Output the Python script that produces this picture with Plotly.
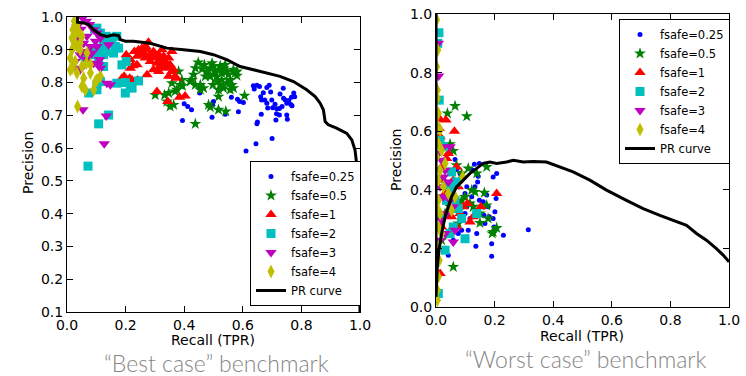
import plotly.graph_objects as go

# ---------------- Best case (left) ----------------
best_f025_x = [0.394,0.40,0.412,0.425,0.453,0.5,0.497,0.495,0.54,0.561,0.582,0.585,0.589,0.602,0.611,0.645,0.648,0.65,0.663,0.7,
               0.636,0.639,0.657,0.661,0.670,0.682,0.690,0.695,0.664,0.682,0.699,0.685,0.702,0.710,0.716,0.725,0.734,0.739,0.727,0.738,
               0.745,0.75,0.757,0.75,0.752,0.715,0.725,0.713,0.766,0.774,0.777,0.764,0.768,0.648,0.675]
best_f025_y = [0.684,0.735,0.727,0.717,0.768,0.742,0.731,0.694,0.703,0.755,0.749,0.711,0.742,0.739,0.591,0.613,0.674,0.68,0.703,0.629,
               0.790,0.780,0.788,0.757,0.769,0.785,0.792,0.771,0.747,0.737,0.747,0.722,0.723,0.734,0.720,0.721,0.727,0.752,0.765,0.783,
               0.747,0.737,0.745,0.701,0.688,0.705,0.701,0.686,0.755,0.768,0.757,0.733,0.729,0.792,0.747]

best_f05_x = [0.448,0.461,0.469,0.477,0.489,0.495,0.5,0.506,0.511,0.517,0.523,0.528,0.534,0.540,0.545,0.551,0.557,0.563,0.568,0.574,
              0.580,0.545,0.534,0.517,0.557,0.528,0.511,0.5,0.483,0.472,0.438,0.432,0.426,0.420,0.438,0.455,0.466,0.392,0.386,0.381,
              0.375,0.369,0.358,0.347,0.341,0.352,0.364,0.333,0.301,0.438,0.483,0.489,0.517,0.542,0.606,0.394,0.455,0.498,0.517,0.568,
              0.489,0.523,0.58]
best_f05_y = [0.861,0.841,0.854,0.834,0.844,0.859,0.849,0.834,0.819,0.839,0.851,0.829,0.844,0.854,0.834,0.824,0.808,0.793,0.839,0.829,
              0.821,0.798,0.783,0.778,0.778,0.808,0.803,0.824,0.824,0.819,0.844,0.824,0.808,0.803,0.793,0.778,0.783,0.808,0.793,0.834,
              0.778,0.773,0.798,0.768,0.742,0.727,0.732,0.762,0.762,0.674,0.732,0.725,0.717,0.712,0.760,0.790,0.793,0.793,0.757,0.783,
              0.819,0.793,0.834]

best_f1_x = [0.202,0.216,0.230,0.239,0.244,0.25,0.256,0.261,0.267,0.273,0.278,0.284,0.290,0.295,0.301,0.307,0.313,0.318,0.324,0.330,
             0.335,0.341,0.347,0.352,0.358,0.364,0.369,0.358,0.347,0.335,0.324,0.307,0.344,0.384,0.403,0.373,0.313,0.278,0.269,0.216,
             0.214,0.195,0.1875,0.222,0.241,0.273,0.295,0.316,0.239,0.225]
best_f1_y = [0.885,0.870,0.895,0.880,0.900,0.885,0.905,0.890,0.875,0.900,0.880,0.864,0.885,0.895,0.875,0.859,0.885,0.870,0.900,0.880,
             0.864,0.849,0.875,0.854,0.895,0.839,0.819,0.834,0.819,0.844,0.854,0.773,0.742,0.755,0.759,0.813,0.834,0.923,0.910,0.844,
             0.813,0.819,0.813,0.808,0.808,0.824,0.839,0.849,0.854,0.851]

best_f2_x = [0.102,0.114,0.125,0.134,0.142,0.153,0.165,0.176,0.159,0.131,0.114,0.097,0.108,0.125,0.202,0.1875,0.170,0.199,0.216,0.244,
             0.222,0.199,0.102,0.102,0.114,0.125,0.142,0.108,0.0716,0.094,0.074,0.148,0.170,0.08,0.0625]
best_f2_y = [0.966,0.951,0.931,0.941,0.920,0.926,0.910,0.905,0.890,0.895,0.905,0.900,0.875,0.885,0.864,0.854,0.798,0.768,0.788,0.805,
             0.783,0.800,0.778,0.793,0.803,0.849,0.701,0.674,0.545,0.963,0.768,0.936,0.941,0.885,0.875]

best_f3_x = [0.053,0.066,0.077,0.091,0.102,0.114,0.097,0.080,0.0625,0.045,0.028,0.045,0.066,0.074,0.091,0.108,0.085,0.136,0.148,0.114,
             0.0545,0.127,0.134,0.040,0.057,0.068,0.102,0.142,0.111,0.032,0.048,0.034]
best_f3_y = [0.997,0.987,0.977,0.961,0.951,0.936,0.926,0.910,0.895,0.885,0.864,0.839,0.870,0.880,0.859,0.854,0.890,0.798,0.793,0.844,
             0.717,0.613,0.698,0.936,0.920,0.941,0.910,0.915,0.870,0.844,0.963,0.971]

best_f4_x = [0.025,0.034,0.020,0.028,0.040,0.051,0.023,0.034,0.017,0.045,0.011,0.028,0.017,0.034,0.051,0.066,0.057,0.051,0.0625,0.091,
             0.102,0.114,0.080,0.036,0.011,0.068,0.045,0.017,0.080,0.097]
best_f4_y = [0.987,0.977,0.961,0.946,0.956,0.941,0.926,0.910,0.900,0.900,0.875,0.864,0.844,0.829,0.849,0.859,0.813,0.788,0.778,0.778,
             0.808,0.819,0.829,0.727,0.839,0.890,0.920,0.936,0.854,0.803]

best_pr_x = [0.036,0.036,0.057,0.074,0.091,0.114,0.136,0.159,0.176,0.182,0.199,0.227,0.284,0.341,0.398,0.455,0.5,0.545,0.591,0.636,
             0.682,0.727,0.773,0.818,0.847,0.864,0.875,0.881,0.892,0.920,0.955,0.972,0.983,0.991,0.998,1.0]
best_pr_y = [1.0,0.984,0.982,0.977,0.961,0.946,0.941,0.946,0.943,0.931,0.926,0.926,0.920,0.905,0.900,0.895,0.885,0.870,0.849,0.839,
             0.829,0.819,0.803,0.778,0.757,0.737,0.717,0.681,0.671,0.661,0.645,0.625,0.594,0.533,0.441,0.10]

# ---------------- Worst case (right) ----------------
worst_f025_x = [0.065,0.131,0.148,0.144,0.142,0.148,0.135,0.127,0.122,0.105,0.099,0.093,0.0875,0.076,0.059,0.042,0.139,0.136,0.110,0.116,
                0.173,0.178,0.182,0.190,0.195,0.198,0.193,0.201,0.205,0.207,0.195,0.161,0.164,0.167,0.190,0.230,0.315,0.070,0.082,0.125,
                0.133,0.099,0.105,0.127,0.048,0.059]
worst_f025_y = [0.503,0.487,0.490,0.446,0.427,0.364,0.330,0.399,0.376,0.342,0.319,0.296,0.262,0.251,0.228,0.177,0.251,0.207,0.262,0.302,
                0.382,0.342,0.308,0.216,0.302,0.273,0.253,0.325,0.370,0.456,0.444,0.359,0.313,0.285,0.173,0.245,0.264,0.469,0.456,0.467,
                0.410,0.387,0.410,0.308,0.308,0.330]

worst_f05_x = [0.065,0.039,0.105,0.048,0.059,0.070,0.0875,0.110,0.173,0.122,0.133,0.165,0.099,0.116,0.127,0.150,0.178,0.173,0.195,0.207,
               0.150,0.059,0.076,0.082,0.068,0.0875,0.048,0.031,0.042,0.019,0.139,0.192]
worst_f05_y = [0.686,0.661,0.651,0.556,0.533,0.484,0.456,0.473,0.478,0.399,0.393,0.390,0.376,0.353,0.342,0.319,0.302,0.347,0.256,0.270,
               0.287,0.137,0.285,0.347,0.416,0.364,0.342,0.319,0.251,0.228,0.456,0.251]

worst_f1_x = [0.034,0.014,0.011,0.063,0.014,0.036,0.019,0.070,0.059,0.207,0.031,0.107,0.127,0.116,0.153,0.082,0.093,0.070,0.014,0.053,
              0.025,0.042,0.076,0.019]
worst_f1_y = [0.638,0.640,0.609,0.600,0.581,0.507,0.478,0.478,0.433,0.387,0.387,0.353,0.308,0.290,0.342,0.319,0.342,0.273,0.114,0.308,
              0.433,0.524,0.410,0.273]

worst_f2_x = [0.010,0.011,0.014,0.053,0.070,0.053,0.036,0.076,0.0875,0.139,0.099,0.031,0.048,0.019,0.065,0.025,0.008,0.042,0.059,0.006]
worst_f2_y = [0.936,0.706,0.569,0.461,0.427,0.399,0.364,0.336,0.302,0.319,0.233,0.194,0.251,0.308,0.364,0.547,0.046,0.416,0.273,0.900]

worst_f3_x = [0.008,0.009,0.025,0.048,0.019,0.031,0.025,0.042,0.014,0.025,0.059,0.036,0.019,0.065,0.031,0.059,0.014,0.048,0.008]
worst_f3_y = [0.900,0.788,0.547,0.547,0.501,0.467,0.444,0.427,0.410,0.376,0.342,0.319,0.296,0.262,0.251,0.222,0.228,0.364,0.524]

worst_f4_x = [0.006,0.0045,0.0045,0.008,0.014,0.008,0.019,0.031,0.014,0.008,0.025,0.065,0.053,0.008,0.014,0.008,0.019,0.008,0.011,0.008,
              0.0045,0.0045,0.091,0.042,0.002,0.002,0.002,0.002,0.002,0.002]
worst_f4_y = [0.877,0.740,0.712,0.661,0.604,0.558,0.535,0.490,0.467,0.433,0.410,0.376,0.330,0.364,0.319,0.273,0.251,0.205,0.159,0.103,
              0.057,0.023,0.444,0.387,0.980,0.820,0.626,0.512,0.342,0.182]

worst_pr_x = [0.0,0.0,0.0045,0.010,0.019,0.031,0.042,0.053,0.070,0.093,0.116,0.139,0.161,0.184,0.207,0.241,0.264,0.298,0.332,0.377,
              0.423,0.468,0.525,0.582,0.65,0.707,0.764,0.809,0.855,0.889,0.923,0.957,0.98,1.0]
worst_pr_y = [1.0,0.034,0.137,0.194,0.25,0.308,0.342,0.376,0.41,0.433,0.456,0.473,0.49,0.495,0.49,0.495,0.501,0.495,0.497,0.495,
              0.478,0.461,0.433,0.399,0.364,0.336,0.313,0.296,0.279,0.251,0.228,0.199,0.177,0.154]

series_names = ["fsafe=0.25", "fsafe=0.5", "fsafe=1", "fsafe=2", "fsafe=3", "fsafe=4"]
series_colors = ["#0000ff", "#008000", "#ff0000", "#00bfbf", "#bf00bf", "#bfbf00"]
series_symbols = ["circle", "star", "triangle-up", "square", "triangle-down", "diamond-tall"]
series_sizes = [5, 9, 10, 9, 10, 10]

best_sets = [(best_f025_x, best_f025_y), (best_f05_x, best_f05_y), (best_f1_x, best_f1_y),
             (best_f2_x, best_f2_y), (best_f3_x, best_f3_y), (best_f4_x, best_f4_y)]
worst_sets = [(worst_f025_x, worst_f025_y), (worst_f05_x, worst_f05_y), (worst_f1_x, worst_f1_y),
              (worst_f2_x, worst_f2_y), (worst_f3_x, worst_f3_y), (worst_f4_x, worst_f4_y)]

FONT = "DejaVu Sans"
fig = go.Figure()

for i, (xs, ys) in enumerate(best_sets):
    fig.add_trace(go.Scatter(x=xs, y=ys, mode="markers", name=series_names[i],
                             marker=dict(color=series_colors[i], symbol=series_symbols[i],
                                         size=series_sizes[i], line=dict(width=0)),
                             xaxis="x", yaxis="y", legend="legend"))
fig.add_trace(go.Scatter(x=best_pr_x, y=best_pr_y, mode="lines", name="PR curve",
                         line=dict(color="black", width=3), xaxis="x", yaxis="y", legend="legend"))

for i, (xs, ys) in enumerate(worst_sets):
    fig.add_trace(go.Scatter(x=xs, y=ys, mode="markers", name=series_names[i],
                             marker=dict(color=series_colors[i], symbol=series_symbols[i],
                                         size=series_sizes[i], line=dict(width=0)),
                             xaxis="x2", yaxis="y2", legend="legend2"))
fig.add_trace(go.Scatter(x=worst_pr_x, y=worst_pr_y, mode="lines", name="PR curve",
                         line=dict(color="black", width=3), xaxis="x2", yaxis="y2", legend="legend2"))

W, H = 746, 376
axis_common = dict(showgrid=False, zeroline=False, showline=True, linecolor="black", linewidth=1,
                   mirror="allticks", ticks="inside", ticklen=6, tickcolor="black", automargin=False,
                   tickfont=dict(family=FONT, size=14, color="black"), tickformat=".1f")
title_font = dict(family=FONT, size=14, color="black")
big_font = dict(family="Lato", size=23, color="#858585", weight=300)

legend_common = dict(bgcolor="white", bordercolor="black", borderwidth=1,
                     font=dict(family=FONT, size=11.5, color="black"),
                     xanchor="left", tracegroupgap=0, itemwidth=30)


def paper_note(text, px, py, font, angle=0):
    return dict(text=text, x=px / W, y=(H - py) / H, xref="paper", yref="paper",
                xanchor="center", yanchor="middle", showarrow=False, textangle=angle, font=font)


fig.update_layout(
    width=W, height=H, margin=dict(l=0, r=0, t=0, b=0, autoexpand=False),
    paper_bgcolor="white", plot_bgcolor="white",
    xaxis=dict(axis_common, domain=[67 / W, 360 / W], range=[0, 1], dtick=0.2, anchor="y"),
    yaxis=dict(axis_common, domain=[(H - 312) / H, (H - 17) / H], range=[0.1, 1.0], dtick=0.1, tick0=0.1, anchor="x"),
    xaxis2=dict(axis_common, domain=[436 / W, 729 / W], range=[0, 1], dtick=0.2, anchor="y2"),
    yaxis2=dict(axis_common, domain=[(H - 307) / H, (H - 14) / H], range=[0, 1.0], dtick=0.2, anchor="x2"),
    legend=dict(legend_common, x=250 / W, y=(H - 306) / H, yanchor="bottom"),
    legend2=dict(legend_common, x=619 / W, y=(H - 19) / H, yanchor="top"),
    annotations=[
        paper_note("Recall (TPR)", 213, 340, title_font),
        paper_note("Precision", 28, 163, title_font, -90),
        paper_note("Recall (TPR)", 582, 336, title_font),
        paper_note("Precision", 396, 160, title_font, -90),
        paper_note("\u201cBest case\u201d benchmark", 216, 363, big_font),
        paper_note("\u201cWorst case\u201d benchmark", 585, 359, big_font),
    ],
)

fig.write_html("out.html")
